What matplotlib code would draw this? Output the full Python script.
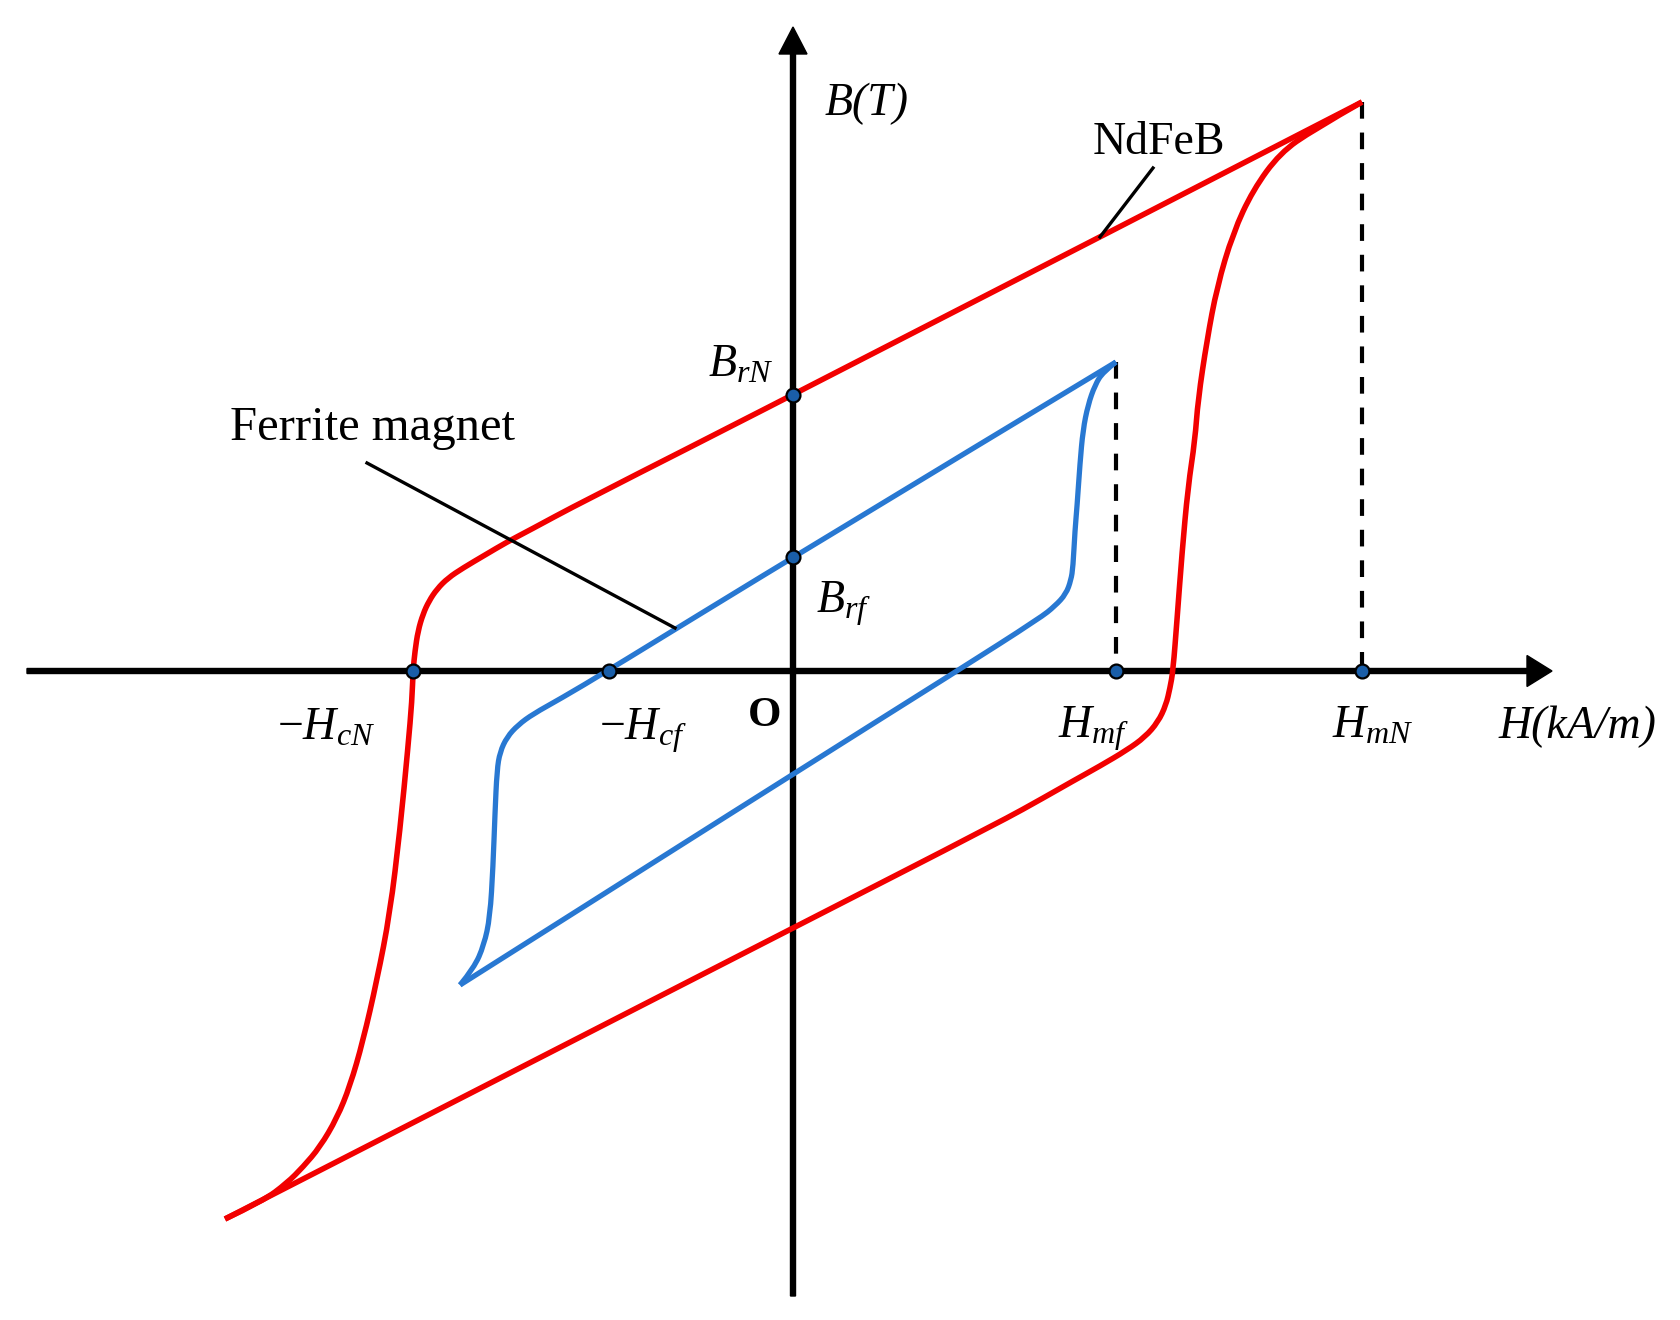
import matplotlib
matplotlib.use("Agg")
import matplotlib.pyplot as plt
from matplotlib.path import Path
from matplotlib.patches import PathPatch

plt.rcParams['mathtext.fontset'] = 'custom'
plt.rcParams['mathtext.rm'] = 'Liberation Serif'
plt.rcParams['mathtext.it'] = 'Liberation Serif:italic'
plt.rcParams['mathtext.bf'] = 'Liberation Serif:bold'
plt.rcParams['lines.scale_dashes'] = False

# ---------------- data (schematic units) ----------------
# NdFeB loop: upper (descending) branch
nd_up_H = [5.69, 0.00, -2.13, -2.63, -2.86, -3.08, -3.30, -3.45, -3.56, -3.64, -3.70,
           -3.75, -3.78, -3.80, -3.81, -3.85, -3.93, -4.03, -4.16, -4.30, -4.43,
           -4.56, -4.73, -4.90, -5.06, -5.30, -5.68]
nd_up_B = [5.69, 2.76, 1.68, 1.41, 1.29, 1.16, 1.03, 0.93, 0.82, 0.70, 0.57,
           0.40, 0.20, 0.00, -0.29, -0.76, -1.59, -2.42, -3.09, -3.70, -4.15,
           -4.47, -4.76, -4.96, -5.12, -5.30, -5.48]
# NdFeB loop: lower (ascending) branch
nd_lo_H = [-5.68, 0.00, 2.07, 2.52, 2.80, 3.07, 3.34, 3.52, 3.65, 3.73, 3.77, 3.80,
           3.84, 3.89, 3.95, 4.02, 4.05, 4.14, 4.24, 4.40, 4.60, 4.87, 5.20, 5.69]
nd_lo_B = [-5.48, -2.57, -1.51, -1.26, -1.10, -0.95, -0.79, -0.66, -0.51, -0.34, -0.17, 0.00,
           0.51, 1.18, 1.84, 2.31, 2.71, 3.31, 3.84, 4.38, 4.81, 5.18, 5.41, 5.69]

# Ferrite loop: upper (descending) branch
fe_up_H = [3.23, 0.00, -1.84, -2.33, -2.60, -2.75, -2.86, -2.93, -2.96, -2.98,
           -3.00, -3.03, -3.09, -3.19, -3.33]
fe_up_B = [3.09, 1.14, 0.01, -0.28, -0.43, -0.54, -0.66, -0.81, -0.99, -1.42,
           -1.96, -2.46, -2.74, -2.97, -3.14]
# Ferrite loop: lower (ascending) branch
fe_lo_H = [-3.33, 0.00, 1.64, 2.47, 2.62, 2.73, 2.78, 2.80, 2.82, 2.84, 2.87,
           2.90, 2.95, 3.02, 3.10, 3.23]
fe_lo_B = [-3.14, -1.03, 0.00, 0.53, 0.65, 0.77, 0.91, 1.04, 1.41, 1.64, 2.08,
           2.41, 2.66, 2.86, 2.99, 3.09]

# characteristic points
H_cN, H_cf = -3.80, -1.84
B_rN, B_rf = 2.76, 1.14
H_mf, B_mf = 3.23, 3.09
H_mN, B_mN = 5.69, 5.69

RED = '#f20000'
BLUE = '#2878d2'
DOT = '#1a5ea8'
SERIF = 'Liberation Serif'
FS = 33


def smooth_branch(ax, hs, bs, color, lw):
    """Draw a branch as a smooth quadratic spline through the read points."""
    pts = list(zip(hs, bs))
    verts = [pts[0]]
    codes = [Path.MOVETO]
    n = len(pts)
    for i in range(1, n - 1):
        ctrl = pts[i]
        if i < n - 2:
            end = ((pts[i][0] + pts[i + 1][0]) / 2, (pts[i][1] + pts[i + 1][1]) / 2)
        else:
            end = pts[-1]
        verts += [ctrl, end]
        codes += [Path.CURVE3, Path.CURVE3]
    patch = PathPatch(Path(verts, codes), fill=False, edgecolor=color, lw=lw,
                      joinstyle='round', capstyle='butt', zorder=3,
                      transform=ax.transData)
    ax.add_patch(patch)


fig = plt.figure(figsize=(16.8, 13.2), dpi=100)
ax = fig.add_axes([0, 0, 1, 1])
ax.set_xlim(-7.93, 8.87)
ax.set_ylim(-6.49, 6.71)
ax.axis('off')

# axes with arrows
ax.arrow(-7.66, 0, 15.25, 0, width=0.05, head_width=0.31, head_length=0.25,
         length_includes_head=True, color='black', zorder=2)
ax.arrow(0, -6.25, 0, 12.69, width=0.05, head_width=0.28, head_length=0.27,
         length_includes_head=True, color='black', zorder=2)

# dashed verticals
ax.plot([H_mf, H_mf], [B_mf, 0], color='black', lw=3.0, dashes=(12, 10), zorder=2)
ax.plot([H_mN, H_mN], [B_mN, 0], color='black', lw=3.0, dashes=(12, 10), zorder=2)

# loops
smooth_branch(ax, nd_up_H, nd_up_B, RED, 4.0)
smooth_branch(ax, nd_lo_H, nd_lo_B, RED, 4.0)
smooth_branch(ax, fe_up_H, fe_up_B, BLUE, 3.8)
smooth_branch(ax, fe_lo_H, fe_lo_B, BLUE, 3.8)

# leader lines
ax.plot([3.60, 3.07], [5.03, 4.34], color='black', lw=2.4, zorder=4)
ax.plot([-4.26, -1.18], [2.08, 0.43], color='black', lw=2.4, zorder=4)

# points
ax.plot([H_cN, H_cf, H_mf, H_mN, 0, 0], [0, 0, 0, 0, B_rN, B_rf], 'o',
        ms=10, mfc=DOT, mec='black', mew=1.6, zorder=5)

# texts
ax.text(0.32, 5.67, 'B(T)', fontsize=FS, family=SERIF, style='italic', va='center', ha='left')
ax.text(3.66, 5.28, 'NdFeB', fontsize=FS, family=SERIF, va='center', ha='center')
ax.text(-4.21, 2.43, 'Ferrite magnet', fontsize=FS + 2, family=SERIF, va='center', ha='center')
ax.text(-0.20, 2.94, r'$B_{rN}$', fontsize=FS, va='baseline', ha='right')
ax.text(0.23, 0.58, r'$B_{rf}$', fontsize=FS, va='baseline', ha='left')
ax.text(-4.67, -0.69, r'$-H_{cN}$', fontsize=FS, va='baseline', ha='center')
ax.text(-1.50, -0.69, r'$-H_{cf}$', fontsize=FS, va='baseline', ha='center')
ax.text(-0.28, -0.55, 'O', fontsize=FS - 2, family=SERIF, weight='bold', va='baseline', ha='center')
ax.text(3.01, -0.67, r'$H_{mf}$', fontsize=FS, va='baseline', ha='center')
ax.text(5.80, -0.67, r'$H_{mN}$', fontsize=FS, va='baseline', ha='center')
ax.text(7.05, -0.67, 'H(kA/m)', fontsize=FS, family=SERIF, style='italic', va='baseline', ha='left')

fig.savefig('out.png', dpi=100, facecolor='white')
